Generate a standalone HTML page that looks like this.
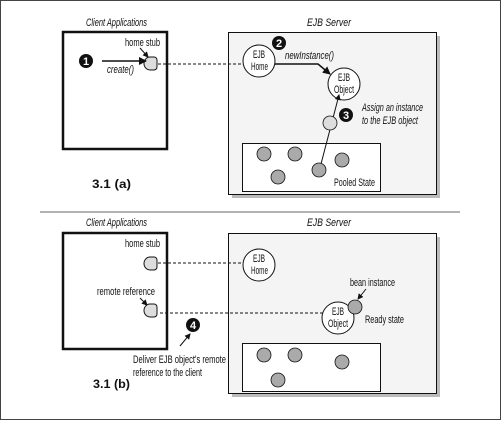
<!DOCTYPE html>
<html><head><style>html,body{margin:0;padding:0;background:#fff}svg{display:block}
text{font-family:"Liberation Sans",sans-serif;font-size:11px;fill:#111}
.i{font-style:italic}.b{font-weight:bold}</style></head><body>
<svg width="502" height="421" viewBox="0 0 502 421" xmlns="http://www.w3.org/2000/svg">
<defs><marker id="a" markerWidth="8" markerHeight="8" refX="7" refY="4" orient="auto" markerUnits="userSpaceOnUse"><path d="M0,0 L8,4 L0,8 z" fill="#111"/></marker>
<marker id="s" markerWidth="6" markerHeight="6" refX="5" refY="3" orient="auto" markerUnits="userSpaceOnUse"><path d="M0,0 L6,3 L0,6 z" fill="#111"/></marker></defs>
<rect x="0.5" y="0.5" width="500" height="419" fill="#fff" stroke="#444"/>
<line x1="40" y1="212" x2="460" y2="212" stroke="#666" stroke-width="1"/>
<!-- TOP -->
<text x="86" y="26" class="i" textLength="61" lengthAdjust="spacingAndGlyphs">Client Applications</text>
<text x="307" y="26" class="i" textLength="44" lengthAdjust="spacingAndGlyphs">EJB Server</text>
<rect x="63" y="32" width="104" height="117" fill="#fff" stroke="#111" stroke-width="2.5"/>
<rect x="232" y="36" width="208" height="162" fill="#bbb"/>
<rect x="228.5" y="32.5" width="208" height="162" fill="#f4f4f4" stroke="#111"/>
<text x="125" y="46" textLength="35" lengthAdjust="spacingAndGlyphs">home stub</text>
<line x1="140" y1="48" x2="148" y2="57" stroke="#111" marker-end="url(#s)"/>
<path d="M150,57 h4 a3,3 0 0 1 3,3 v7 a3,3 0 0 1 -3,3 h-4 a6,6.5 0 0 1 0,-13z" fill="#ddd" stroke="#111"/>
<circle cx="86" cy="61" r="7" fill="#111"/><text x="86" y="65" text-anchor="middle" class="b" style="fill:#fff">1</text>
<line x1="102" y1="61" x2="146" y2="61" stroke="#111" stroke-width="1.5" marker-end="url(#a)"/>
<text x="107" y="73" class="i" textLength="27" lengthAdjust="spacingAndGlyphs">create()</text>
<line x1="158" y1="64" x2="243" y2="64" stroke="#111" stroke-dasharray="3,2"/>
<circle cx="259" cy="61" r="16" fill="#fff" stroke="#111"/>
<text x="253" y="58" textLength="12" lengthAdjust="spacingAndGlyphs">EJB</text><text x="251" y="70" textLength="17" lengthAdjust="spacingAndGlyphs">Home</text>
<circle cx="279" cy="43" r="7" fill="#111"/><text x="279" y="47" text-anchor="middle" class="b" style="fill:#fff">2</text>
<text x="285" y="59" class="i" textLength="49" lengthAdjust="spacingAndGlyphs">newInstance()</text>
<polyline points="275,64 318,64 330,74" fill="none" stroke="#111" stroke-width="1.5" marker-end="url(#a)"/>
<circle cx="344" cy="84" r="16" fill="#fff" stroke="#111"/>
<text x="338" y="81" textLength="12" lengthAdjust="spacingAndGlyphs">EJB</text><text x="334" y="93" textLength="20" lengthAdjust="spacingAndGlyphs">Object</text>
<circle cx="346" cy="115" r="7" fill="#111"/><text x="346" y="119" text-anchor="middle" class="b" style="fill:#fff">3</text>
<text x="362" y="111" class="i" textLength="61" lengthAdjust="spacingAndGlyphs">Assign an instance</text><text x="362" y="124" class="i" textLength="56" lengthAdjust="spacingAndGlyphs">to the EJB object</text>
<rect x="242.5" y="143.5" width="138" height="48" fill="#fff" stroke="#111"/>
<line x1="321" y1="164" x2="339" y2="95" stroke="#111" marker-end="url(#s)"/>
<circle cx="330" cy="123" r="7" fill="#ddd" stroke="#111" stroke-width="0.8"/>
<g fill="#aaa" stroke="#111" stroke-width="0.8">
<circle cx="264" cy="154" r="7"/><circle cx="295" cy="154" r="7"/><circle cx="342" cy="160" r="7"/><circle cx="319" cy="170" r="7"/><circle cx="278" cy="177" r="7"/></g>
<text x="334" y="186" textLength="41" lengthAdjust="spacingAndGlyphs">Pooled State</text>
<text x="92" y="188" class="b" style="font-size:12px" textLength="39" lengthAdjust="spacingAndGlyphs">3.1 (a)</text>
<!-- BOTTOM -->
<text x="86" y="226" class="i" textLength="61" lengthAdjust="spacingAndGlyphs">Client Applications</text>
<text x="307" y="226" class="i" textLength="44" lengthAdjust="spacingAndGlyphs">EJB Server</text>
<rect x="63" y="233" width="104" height="116" fill="#fff" stroke="#111" stroke-width="2.5"/>
<rect x="232" y="237" width="208" height="160" fill="#bbb"/>
<rect x="228.5" y="233.5" width="208" height="160" fill="#f4f4f4" stroke="#111"/>
<text x="125" y="247" textLength="35" lengthAdjust="spacingAndGlyphs">home stub</text>
<path d="M150,257 h4 a3,3 0 0 1 3,3 v7 a3,3 0 0 1 -3,3 h-4 a6,6.5 0 0 1 0,-13z" fill="#ddd" stroke="#111"/>
<line x1="158" y1="263" x2="243" y2="263" stroke="#111" stroke-dasharray="3,2"/>
<circle cx="259" cy="265" r="16" fill="#fff" stroke="#111"/>
<text x="253" y="262" textLength="12" lengthAdjust="spacingAndGlyphs">EJB</text><text x="251" y="274" textLength="17" lengthAdjust="spacingAndGlyphs">Home</text>
<text x="97" y="295" textLength="58" lengthAdjust="spacingAndGlyphs">remote reference</text>
<line x1="140" y1="298" x2="147" y2="305" stroke="#111" marker-end="url(#s)"/>
<path d="M150,304 h4 a3,3 0 0 1 3,3 v7 a3,3 0 0 1 -3,3 h-4 a6,6.5 0 0 1 0,-13z" fill="#ddd" stroke="#111"/>
<line x1="160" y1="313" x2="323" y2="313" stroke="#111" stroke-dasharray="3,2"/>
<circle cx="338" cy="318" r="16" fill="#fff" stroke="#111"/>
<text x="332" y="315" textLength="12" lengthAdjust="spacingAndGlyphs">EJB</text><text x="328" y="327" textLength="20" lengthAdjust="spacingAndGlyphs">Object</text>
<circle cx="355" cy="307" r="7" fill="#aaa" stroke="#111" stroke-width="0.8"/>
<text x="350" y="286" textLength="45" lengthAdjust="spacingAndGlyphs">bean instance</text>
<line x1="366" y1="289" x2="358" y2="299" stroke="#111" marker-end="url(#s)"/>
<text x="365" y="323" textLength="39" lengthAdjust="spacingAndGlyphs">Ready state</text>
<circle cx="193" cy="325" r="7" fill="#111"/><text x="193" y="329" text-anchor="middle" class="b" style="fill:#fff">4</text>
<line x1="180" y1="346" x2="190" y2="334" stroke="#111" marker-end="url(#s)"/>
<text x="133" y="363" textLength="93" lengthAdjust="spacingAndGlyphs">Deliver EJB object's remote</text><text x="133" y="376" textLength="69" lengthAdjust="spacingAndGlyphs">reference to the client</text>
<text x="93" y="388" class="b" style="font-size:12px" textLength="37" lengthAdjust="spacingAndGlyphs">3.1 (b)</text>
<rect x="242.5" y="343.5" width="138" height="48" fill="#fff" stroke="#111"/>
<g fill="#aaa" stroke="#111" stroke-width="0.8">
<circle cx="264" cy="355" r="7"/><circle cx="295" cy="355" r="7"/><circle cx="342" cy="362" r="7"/><circle cx="278" cy="380" r="7"/></g>
</svg></body></html>
